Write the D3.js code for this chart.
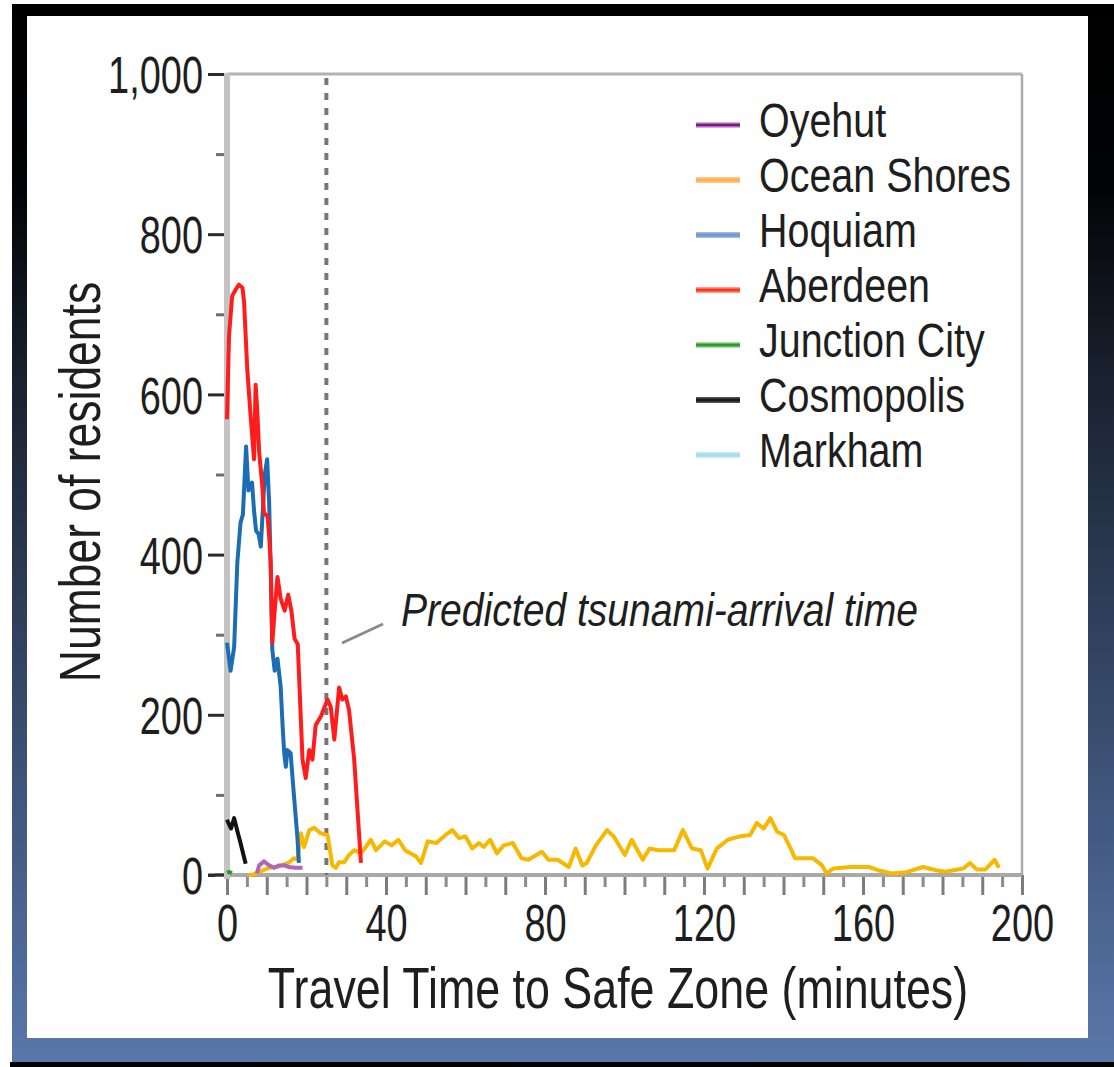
<!DOCTYPE html>
<html>
<head>
<meta charset="utf-8">
<script src="https://cdn.jsdelivr.net/npm/d3@7"></script>
<style>
  html, body { margin: 0; padding: 0; background: #fff; }
  svg { display: block; }
  text { font-family: "Liberation Sans", Arial, sans-serif; fill: #1e1e1e; }
</style>
</head>
<body>
<svg id="chart" width="1114" height="1067"></svg>
<script>
// towns in legend order
const towns = ["Oyehut", "Ocean Shores", "Hoquiam", "Aberdeen", "Junction City", "Cosmopolis", "Markham"];

// [minutes, residents]
const oyehut = [[7.5,2],[8.1,12],[9.3,17],[10.6,12],[11.9,9],[13.1,12],[14.4,12],[15.6,10],[17.3,9],[19,9]];
const oceanShores = [[5.5,0],[6.8,1],[8.1,4],[10.6,9],[12.3,10],[13.7,12],[15.4,15],[16.9,21],[17.7,19],[18.6,52],
  [19.4,35],[20.7,56],[21.9,59],[23.6,52],[25.3,50],[26.5,12],[27.4,9],[28.2,16],[29.5,16],[30.7,25],[32,31],
  [33.7,27],[34.9,35],[36.2,44],[37.5,31],[39.7,42],[41.4,37],[43.1,44],[44.8,31],[47.6,23],[48.8,15],[50.5,42],
  [52.7,40],[55,50],[56.7,56],[58.4,46],[60,48],[61.7,33],[63.4,40],[64.6,35],[66.2,44],[67.9,27],[69.6,37],
  [71.9,40],[74.1,21],[75.8,19],[79.2,29],[80.9,19],[83.2,19],[86,10],[87.7,33],[89.4,12],[90.5,15],[92.8,37],
  [95.6,56],[97.3,48],[100.1,25],[101.8,44],[104.6,19],[106.3,33],[108.5,31],[112.5,31],[114.7,56],[117,33],
  [119.2,31],[120.9,8],[123.2,33],[126,44],[128.8,48],[131.6,50],[133.3,65],[135,58],[136.7,71],[138.4,54],
  [140.1,50],[141.8,33],[142.9,21],[147.4,21],[149.7,12],[150.8,2],[152.5,8],[157,10],[161.5,10],[163.8,6],
  [167.1,2],[170.5,3],[175.1,10],[178.4,6],[180.7,4],[185.2,8],[186.9,15],[188.6,7],[190.8,7],[193.1,19],[194.2,9]];
const hoquiam = [[0,290],[0.9,255],[1.8,285],[2.6,390],[3.4,440],[4,450],[4.8,535],[5.4,480],[6.3,490],[6.8,455],
  [7.3,430],[8,425],[8.5,410],[9.5,500],[10.1,519],[10.6,465],[11,381],[11.4,281],[12,255],[12.7,270],[13.5,235],
  [14,185],[14.4,152],[14.8,135],[15.2,156],[16,152],[16.8,102],[17.7,48],[18.1,15]];
const aberdeen = [[0,569],[0.5,673],[1.3,723],[2.2,731],[3,737],[3.9,733],[4.3,715],[4.7,673],[5.1,631],[6,569],
  [6.8,519],[7.2,612],[7.6,581],[8.1,527],[8.9,485],[9.3,452],[10.2,448],[10.6,423],[11,390],[11.4,290],[12,330],
  [12.7,372],[13.5,345],[14.5,330],[15.4,350],[16.2,330],[17,295],[17.8,288],[19,144],[19.8,121],[20.7,156],
  [21.5,144],[22.3,187],[23.6,198],[25.3,219],[26.1,210],[27,169],[28.2,234],[29,219],[29.9,223],[30.7,206],
  [32,144],[33.7,15]];
const junctionCity = [[0,3],[0.6,4],[1.2,2]];
const cosmopolis = [[0,69],[1,58],[1.8,71],[2.6,55],[3.4,40],[3.9,30],[4.7,14]];
const markham = [];

const arrivalTime = 25;                  // predicted tsunami arrival (minutes)
const yMajorTicks = [0, 200, 400, 600, 800, 1000];
const yMinorTicks = [100, 300, 500, 700, 900];
const xLabelTicks = [0, 40, 80, 120, 160, 200];

// styling per town (same order as towns)
const lineColors   = ["#b066b8", "#f6b800", "#1c6db4", "#ff1c1c", "#2a9a2a", "#111111", "#a6dbe9"];
const legendCore   = ["#7a1a88", "#ffb04e", "#7398cc", "#ff3a1c", "#2a9a2a", "#1a1a1a", "#a6dbe9"];
const legendHalo   = ["#d8aedb", "#ffc987", "#9db8dc", "#ff9a8e", "#a9d8a9", "#555555", "#c9ebf3"];
const seriesByTown = [oyehut, oceanShores, hoquiam, aberdeen, junctionCity, cosmopolis, markham];
const drawOrder = [1, 0, 4, 5, 2, 3];

const svg = d3.select("#chart");
const W = 1114, H = 1067;

// frame: dark-to-blue gradient around a white panel
const defs = svg.append("defs");
const grad = defs.append("linearGradient").attr("id", "frameGrad")
  .attr("x1", 0).attr("y1", 0).attr("x2", 0).attr("y2", 1);
[[0, "#000000"], [0.17, "#020305"], [0.35, "#19212e"], [0.55, "#2c3b55"], [0.78, "#435a82"], [1, "#5a77aa"]]
  .forEach(([o, c]) => grad.append("stop").attr("offset", o).attr("stop-color", c));

svg.append("rect").attr("x", 12).attr("y", 4).attr("width", W - 12).attr("height", 1059)
  .attr("fill", "url(#frameGrad)");
svg.append("rect").attr("x", 12).attr("y", 4).attr("width", W - 12).attr("height", 12).attr("fill", "#000");
svg.append("rect").attr("x", 10).attr("y", 1062).attr("width", W - 10).attr("height", 5).attr("fill", "#000");
svg.append("rect").attr("x", 27).attr("y", 16).attr("width", 1061).attr("height", 1022).attr("fill", "#fff");

// narrow text helper (reference font is a condensed sans)
function narrowText(g, x, y, str, size, sx, anchor) {
  return g.append("text")
    .attr("transform", `translate(${x},${y}) scale(${sx},1)`)
    .attr("text-anchor", anchor || "start")
    .style("font-size", size + "px")
    .text(str);
}

const margin = { left: 227, top: 74, right: 1022, bottom: 875 };
const x = d3.scaleLinear().domain([0, 200]).range([margin.left, margin.right]);
const y = d3.scaleLinear().domain([0, 1000]).range([margin.bottom, margin.top]);

const plot = svg.append("g");

// frame lines of the plot box
plot.append("line").attr("x1", x(0)).attr("x2", x(200)).attr("y1", y(1000)).attr("y2", y(1000))
  .attr("stroke", "#b2b2b2").attr("stroke-width", 3);
plot.append("line").attr("x1", x(200)).attr("x2", x(200)).attr("y1", y(1000)).attr("y2", y(0))
  .attr("stroke", "#ababab").attr("stroke-width", 2.5);

// y axis: minor + major ticks
const yMinor = plot.append("g").attr("transform", `translate(${x(0)},0)`)
  .call(d3.axisLeft(y).tickValues(yMinorTicks).tickSize(11).tickFormat(""));
yMinor.select(".domain").remove();
yMinor.selectAll(".tick line").attr("stroke", "#6e6e6e").attr("stroke-width", 3);

const sxTick = 0.73;
const yMajor = plot.append("g").attr("transform", `translate(${x(0)},0)`)
  .call(d3.axisLeft(y).tickValues(yMajorTicks).tickSize(19).tickPadding(5).tickFormat(d3.format(",")));
yMajor.select(".domain").remove();
yMajor.selectAll(".tick line").attr("stroke", "#2a2a2a").attr("stroke-width", 3);
yMajor.selectAll(".tick text")
  .style("font-size", "52px").attr("fill", "#1e1e1e")
  .attr("dy", "0.36em")
  .attr("x", -24 / sxTick)
  .attr("transform", `scale(${sxTick},1)`);

// x axis: ticks every 5, longer every 10, labels every 40
const xMinor = plot.append("g").attr("transform", `translate(0,${y(0)})`)
  .call(d3.axisBottom(x).tickValues(d3.range(5, 200, 10)).tickSize(12).tickFormat(""));
xMinor.select(".domain").remove();
xMinor.selectAll(".tick line").attr("stroke", "#8c8c8c").attr("stroke-width", 3);

const xMajor = plot.append("g").attr("transform", `translate(0,${y(0)})`)
  .call(d3.axisBottom(x).tickValues(d3.range(0, 201, 10)).tickSize(20).tickPadding(9)
    .tickFormat(v => xLabelTicks.includes(v) ? d3.format("d")(v) : ""));
xMajor.select(".domain").remove();
xMajor.selectAll(".tick line").attr("stroke", "#7c7c7c").attr("stroke-width", 3);
xMajor.selectAll(".tick text")
  .style("font-size", "52px").attr("fill", "#1e1e1e")
  .attr("transform", `scale(${sxTick},1)`);

// axis lines
plot.append("line").attr("x1", x(0) - 12).attr("x2", x(200)).attr("y1", y(0)).attr("y2", y(0))
  .attr("stroke", "#a9a9a9").attr("stroke-width", 4);
plot.append("line").attr("x1", x(0)).attr("x2", x(0)).attr("y1", y(1000) - 1).attr("y2", y(0) + 4)
  .attr("stroke", "#c3c3c3").attr("stroke-width", 6);
plot.append("line").attr("x1", x(0) - 19).attr("x2", x(0) - 3).attr("y1", y(0)).attr("y2", y(0))
  .attr("stroke", "#2a2a2a").attr("stroke-width", 3);

// predicted arrival time marker
plot.append("line").attr("x1", x(arrivalTime)).attr("x2", x(arrivalTime))
  .attr("y1", y(1000) + 4).attr("y2", y(0))
  .attr("stroke", "#767676").attr("stroke-width", 4).attr("stroke-dasharray", "7,8");

// series
const line = d3.line().x(d => x(d[0])).y(d => y(d[1]));
drawOrder.forEach(i => {
  if (!seriesByTown[i].length) return;
  plot.append("path").datum(seriesByTown[i])
    .attr("fill", "none")
    .attr("stroke", lineColors[i])
    .attr("stroke-width", 4)
    .attr("stroke-linejoin", "round")
    .attr("d", line);
});

// annotation
plot.append("line").attr("x1", 342).attr("y1", 643).attr("x2", 383).attr("y2", 624)
  .attr("stroke", "#8a8a8a").attr("stroke-width", 3);
narrowText(plot, 401, 626, "Predicted tsunami-arrival time", 46, 0.85)
  .style("font-style", "italic").attr("fill", "#222");

// legend
const legend = svg.append("g");
towns.forEach((t, i) => {
  const ly = 125 + i * 55;
  legend.append("line").attr("x1", 696).attr("x2", 740).attr("y1", ly).attr("y2", ly)
    .attr("stroke", legendHalo[i]).attr("stroke-width", 6);
  legend.append("line").attr("x1", 696).attr("x2", 740).attr("y1", ly).attr("y2", ly)
    .attr("stroke", legendCore[i]).attr("stroke-width", 3);
  narrowText(legend, 759, ly + 12, t, 49, 0.805);
});

// axis titles
narrowText(svg, 618, 1008, "Travel Time to Safe Zone (minutes)", 57, 0.786, "middle");
svg.append("text")
  .attr("transform", `translate(100,482) rotate(-90) scale(0.78,1)`)
  .attr("text-anchor", "middle")
  .style("font-size", "57px")
  .text("Number of residents");
</script>
</body>
</html>
